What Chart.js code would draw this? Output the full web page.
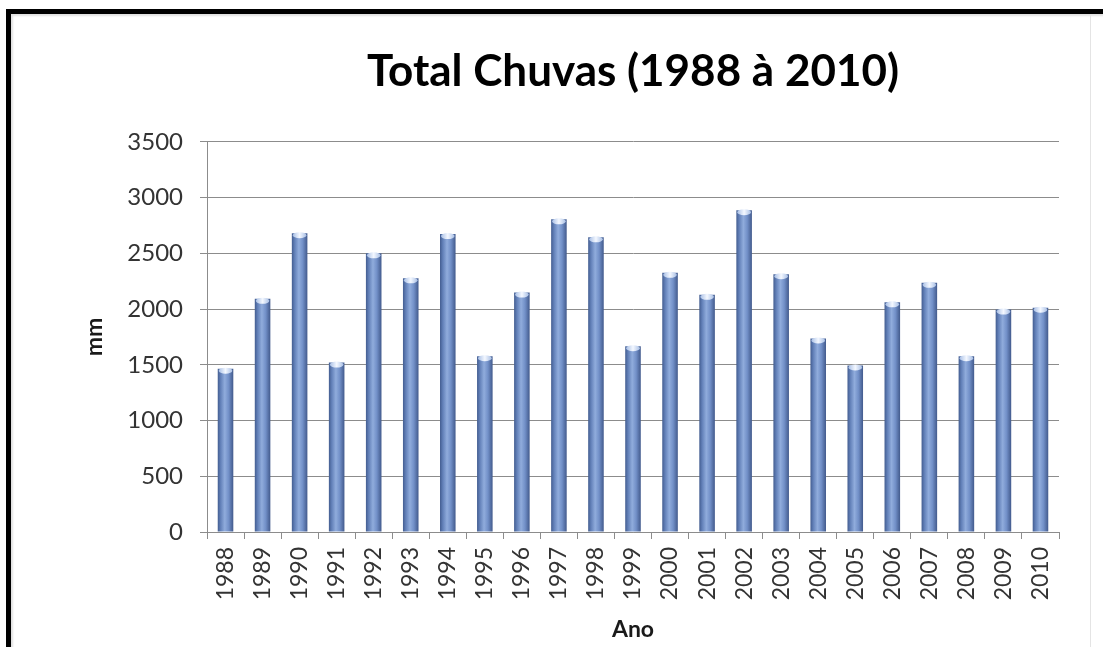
<!DOCTYPE html>
<html>
<head>
<meta charset="utf-8">
<title>Total Chuvas (1988 à 2010)</title>
<script src="https://cdn.jsdelivr.net/npm/chart.js@4/dist/chart.umd.min.js"></script>
<style>
  html, body { margin: 0; padding: 0; background: #fff; }
  #wrap { position: relative; width: 1103px; height: 647px; overflow: hidden; background: #fff; }
  #c { position: absolute; left: 0; top: 0; }
  #frame {
    position: absolute; left: 6px; top: 9px; width: 1200px; height: 800px;
    border-top: 5px solid #000; border-left: 5px solid #000;
    box-shadow: inset 2px 2px 2px rgba(0,0,0,0.12);
    pointer-events: none;
  }
  #edge { position: absolute; left: 1090px; top: 15px; width: 1px; height: 640px; background: #e4e4e4; }
</style>
</head>
<body>
<div id="wrap">
  <canvas id="c" width="1103" height="647"></canvas>
  <div id="frame"></div>
  <div id="edge"></div>
</div>
<script>
// Anos da série
const anos = ['1988','1989','1990','1991','1992','1993','1994','1995','1996','1997','1998','1999',
              '2000','2001','2002','2003','2004','2005','2006','2007','2008','2009','2010'];
// Total anual de chuvas (mm)
const chuvas = [1465, 2092, 2680, 1520, 2500, 2275, 2672, 1577, 2148, 2805, 2643, 1667,
                2325, 2127, 2887, 2313, 1736, 1494, 2060, 2235, 1577, 1995, 2012];
// Marcas do eixo Y
const yMin = 0, yMax = 3500, yPasso = 500;

const BAR_FRAC = 0.42;
const FONT = 'Lato';
const GRID = '#8c8c8c';

// cylinder-like shading across each bar
function barFill(ctx) {
  const chart = ctx.chart;
  const area = chart.chartArea;
  if (ctx.type !== 'data' || !area) return '#6783bb';
  const x = chart.scales.x.getPixelForValue(ctx.dataIndex);
  const w = (area.right - area.left) / anos.length * BAR_FRAC;
  const g = chart.ctx.createLinearGradient(x - w / 2, 0, x + w / 2, 0);
  g.addColorStop(0.00, '#435d90');
  g.addColorStop(0.18, '#6280b8');
  g.addColorStop(0.45, '#90acdc');
  g.addColorStop(0.70, '#7290c8');
  g.addColorStop(1.00, '#425a8c');
  return g;
}

// light elliptical cap on top of each bar
const capPlugin = {
  id: 'cylinderCap',
  afterDatasetsDraw(chart) {
    const c = chart.ctx;
    const meta = chart.getDatasetMeta(0);
    meta.data.forEach(bar => {
      const { x, y, width } = bar.getProps(['x', 'y', 'width'], true);
      c.save();
      const g = c.createLinearGradient(x - width / 2, 0, x + width / 2, 0);
      g.addColorStop(0, '#9fb8e2');
      g.addColorStop(0.5, '#f4f8ff');
      g.addColorStop(1, '#9fb8e2');
      c.fillStyle = g;
      c.beginPath();
      c.ellipse(x, y + 2, width / 2 - 1, 3, 0, 0, Math.PI * 2);
      c.fill();
      c.restore();
    });
  }
};

new Chart(document.getElementById('c'), {
  type: 'bar',
  data: {
    labels: anos,
    datasets: [{
      label: 'Total Chuvas',
      data: chuvas,
      backgroundColor: barFill,
      borderWidth: 0,
      barPercentage: BAR_FRAC,
      categoryPercentage: 1.0
    }]
  },
  plugins: [capPlugin],
  options: {
    responsive: false,
    animation: false,
    devicePixelRatio: 1,
    layout: { padding: { left: 0, right: 44, top: 0, bottom: 0 } },
    plugins: {
      legend: { display: false },
      tooltip: { enabled: false },
      title: {
        display: true,
        text: 'Total Chuvas (1988 à 2010)',
        fullSize: false,
        color: '#000',
        font: { family: FONT, size: 44, weight: 'bold', lineHeight: 1.2 },
        padding: { top: 45, bottom: 44 }
      }
    },
    scales: {
      x: {
        afterFit(scale) { scale.height = 647 - 532; },
        grid: { display: true, drawOnChartArea: false, color: GRID, tickLength: 7, offset: true },
        border: { display: true, color: GRID },
        ticks: {
          minRotation: 90, maxRotation: 90, autoSkip: false, padding: 8,
          color: '#333', font: { family: FONT, size: 23 }
        },
        title: {
          display: true, text: 'Ano', color: '#1a1a1a',
          font: { family: FONT, size: 23, weight: 'bold', lineHeight: 1.2 },
          padding: { top: 2, bottom: 4 }
        }
      },
      y: {
        min: yMin, max: yMax,
        afterFit(scale) { scale.width = 207; },
        grid: { color: GRID, tickLength: 7 },
        border: { display: true, color: GRID },
        ticks: {
          stepSize: yPasso, padding: 17,
          color: '#333', font: { family: FONT, size: 24 },
          callback: v => String(v)
        },
        title: {
          display: true, text: 'mm', color: '#1a1a1a',
          font: { family: FONT, size: 23, weight: 'bold', lineHeight: 1.2 },
          padding: { top: 81, bottom: 0 }
        }
      }
    }
  }
});
</script>
</body>
</html>
